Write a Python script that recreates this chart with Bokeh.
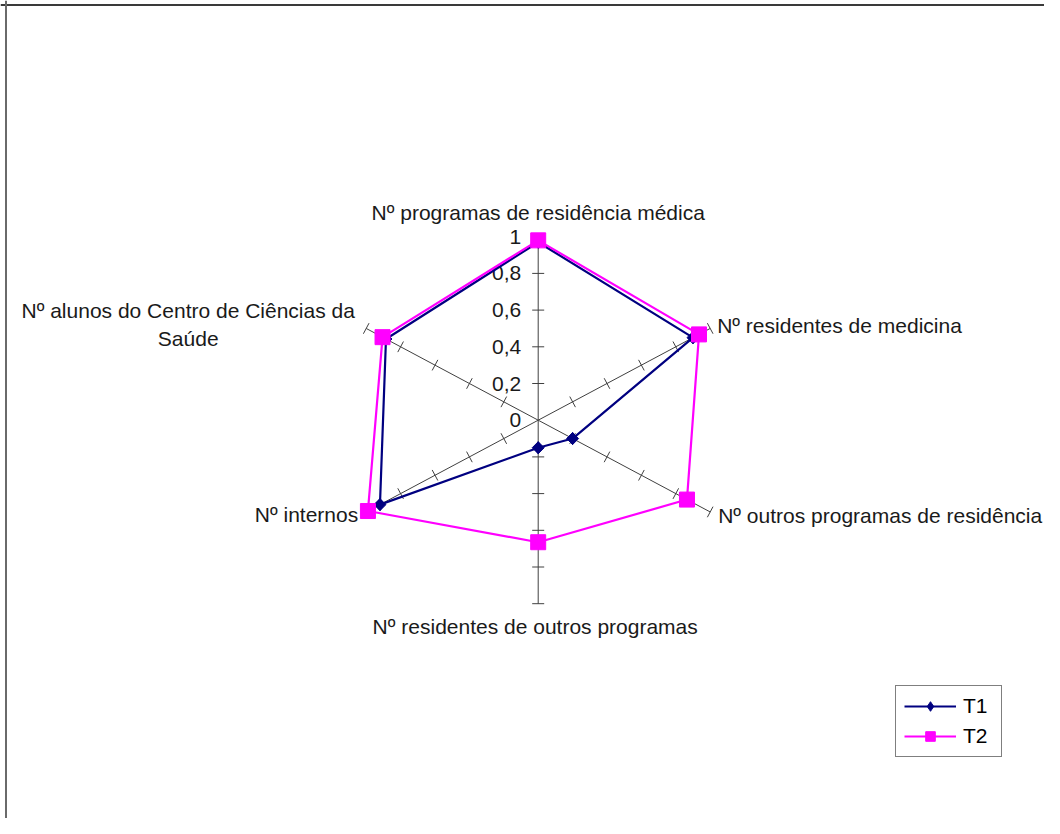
import numpy as np
from bokeh.plotting import figure
from bokeh.models import Range1d, Span, Legend, LegendItem, ColumnDataSource
from bokeh.core.properties import value
from bokeh.embed import file_html
from bokeh.resources import INLINE

# ---------------- data ----------------
categories = [
    "Nº programas de residência médica",
    "Nº residentes de medicina",
    "Nº outros programas de residência",
    "Nº residentes de outros programas",
    "Nº internos",
    "Nº alunos do Centro de Ciências da\nSaúde",
]
t1_values = [0.97, 0.90, 0.20, 0.15, 0.92, 0.885]
t2_values = [0.98, 0.935, 0.865, 0.665, 0.99, 0.905]
series_names = ["T1", "T2"]
tick_values = [0.0, 0.2, 0.4, 0.6, 0.8, 1.0]
tick_labels = ["0", "0,2", "0,4", "0,6", "0,8", "1"]

# ---------------- layout ----------------
W, H = 1044, 818
SX, SY = 198.6, 183.5          # pixels per unit (x, y)
CX, CY = 537.7, 419.7          # centre in figure pixels
x0 = -CX / SX
x1 = x0 + W / SX
y1 = CY / SY
y0 = y1 - H / SY

FONT_NAME = "Liberation Sans"
FONT = value(FONT_NAME)
FS = "21px"

p = figure(width=W, height=H, x_range=Range1d(x0, x1), y_range=Range1d(y0, y1),
           output_backend="svg", toolbar_location=None, min_border=0)
p.axis.visible = False
p.grid.visible = False
p.outline_line_color = None
p.background_fill_color = "white"
p.border_fill_color = "white"

n = len(categories)
ang = np.deg2rad(90 - 360.0 / n * np.arange(n))
cx, sy_ = np.cos(ang), np.sin(ang)

# border (top and left edges)
p.add_layout(Span(location=y1 - 4.5 / SY, dimension="width", line_color="#3a3a3a", line_width=2))
p.add_layout(Span(location=x0 + 5.5 / SX, dimension="height", line_color="#6a6a6a", line_width=2))

# axes
p.segment(x0=np.zeros(n), y0=np.zeros(n), x1=cx, y1=sy_, line_color="#404040", line_width=1)

# tick marks (perpendicular to each axis in screen space)
L = 6
tx0, ty0, tx1, ty1 = [], [], [], []
for i in range(n):
    ux, uy = cx[i] * SX, sy_[i] * SY
    norm = np.hypot(ux, uy)
    ux, uy = ux / norm, uy / norm
    dx, dy = -uy * L / SX, ux * L / SY
    for v in tick_values[1:]:
        px, py = v * cx[i], v * sy_[i]
        tx0.append(px - dx); ty0.append(py - dy)
        tx1.append(px + dx); ty1.append(py + dy)
p.segment(x0=tx0, y0=ty0, x1=tx1, y1=ty1, line_color="#404040", line_width=1)

# tick labels on the first axis
p.text(x=[v * cx[0] for v in tick_values], y=[v * sy_[0] for v in tick_values], text=tick_labels,
       x_offset=-17, text_align="right", text_baseline="middle",
       text_font=FONT, text_font_size=FS, text_color="#1a1a1a")

# category labels
lab_dx = [0, 7, 8, -3, -8, -178]
lab_dy = [-24, -3, 4, 23, 3, -4]
lab_align = ["center", "left", "left", "center", "right", "center"]
lab_src = ColumnDataSource(dict(x=cx, y=sy_, text=categories, xo=lab_dx, yo=lab_dy, al=lab_align))
p.text(x="x", y="y", text="text", x_offset="xo", y_offset="yo", text_align="al",
       text_baseline="middle", text_line_height=1.22, source=lab_src,
       text_font=FONT, text_font_size=FS, text_color="#1a1a1a")

# series
def closed(vals):
    v = np.array(vals + vals[:1])
    a = np.concatenate([ang, ang[:1]])
    return v * np.cos(a), v * np.sin(a)

t1x, t1y = closed(t1_values)
t2x, t2y = closed(t2_values)

l1 = p.line(t1x, t1y, line_color="#000080", line_width=2.2)
# diamond (used for the legend glyph), covered on the chart by the rotated squares
m1_leg = p.scatter(t1x[:-1], t1y[:-1], marker="diamond", size=12,
                   fill_color="#000080", line_color="#000080")
m1 = p.scatter(t1x[:-1], t1y[:-1], marker="square", angle=np.pi / 4, size=8.5,
               fill_color="#000080", line_color="#000080")
l2 = p.line(t2x, t2y, line_color="#FF00FF", line_width=2.2)
m2 = p.scatter(t2x[:-1], t2y[:-1], marker="square", size=15, fill_color="#FF00FF", line_color="#FF00FF")

legend = Legend(items=[LegendItem(label=series_names[0], renderers=[l1, m1_leg]),
                       LegendItem(label=series_names[1], renderers=[l2, m2])],
                location=(895, 61), padding=8, spacing=6, glyph_width=52, glyph_height=24,
                label_height=24, label_width=30, label_standoff=7, margin=0,
                label_text_font=FONT_NAME, label_text_font_size=FS, label_text_color="black",
                border_line_color="black", border_line_width=1, background_fill_color="white",
                background_fill_alpha=1.0)
p.add_layout(legend)

open("out.html", "w").write(file_html(p, INLINE))
